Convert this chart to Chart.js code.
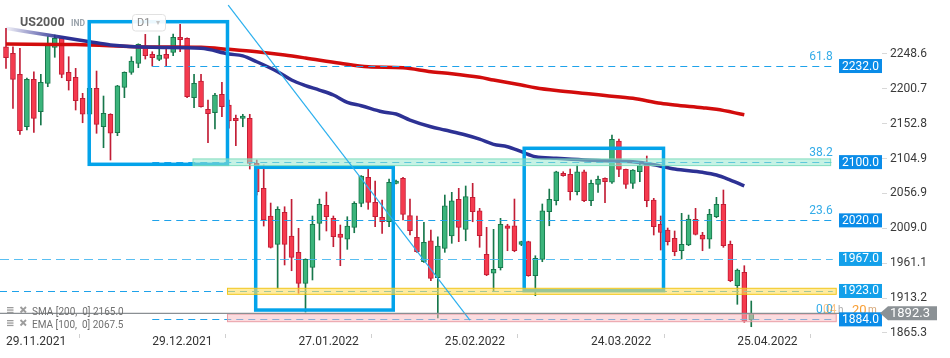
<!DOCTYPE html>
<html><head><meta charset="utf-8">
<script src="https://cdn.jsdelivr.net/npm/chart.js@4.4.1/dist/chart.umd.min.js"></script>
<style>html,body{margin:0;padding:0;background:#fff;overflow:hidden}</style>
</head><body>
<canvas id="c" width="950" height="358"></canvas>
<script>
// ---------- DATA ----------
const candleOpen  = [2258.5,2249.4,2220.6,2148.6,2213.7,2169.2,2208.2,2257.7,2270.1,2223.3,2216.5,2187.6,2165.7,2201.4,2148.6,2165.7,2140.4,2202.7,2223.3,2235.7,2259.9,2248.1,2241.2,2248.1,2250.8,2271.4,2270.1,2188.5,2211.4,2172.5,2167.9,2193.1,2178.4,2160.2,2160.2,2160.2,2098.3,2064.0,2026.0,1987.1,2031.0,1998.5,1976.1,1933.5,1955.5,2015.9,2040.7,2022.8,2001.2,1994.0,2010.4,2043.4,2079.1,2044.8,2024.2,2018.1,2070.9,2077.8,2026.4,1996.7,1963.2,1992.0,1941.2,1981.6,1998.5,2048.9,2007.7,2051.6,2033.2,1973.4,1947.3,1955.0,2012.6,2012.6,1987.1,1990.7,1944.0,1966.5,2031.9,2047.0,2084.6,2083.2,2059.3,2086.8,2047.0,2069.5,2077.8,2072.3,2129.0,2090.1,2070.9,2086.8,2096.0,2047.9,2014.6,2006.7,1995.3,1978.3,1986.1,2021.4,1999.9,1994.0,2025.0,2042.0,1987.1,1930.2,1948.6,1883.1];
const candleHigh  = [2283.8,2258.5,2256.3,2215.5,2224.2,2220.6,2272.3,2274.6,2272.3,2244.8,2228.8,2194.5,2204.5,2225.1,2190.8,2166.5,2205.5,2224.0,2244.8,2262.5,2275.5,2251.6,2273.2,2258.5,2276.0,2289.3,2270.8,2220.6,2220.6,2185.3,2194.5,2209.6,2185.3,2164.7,2165.7,2165.7,2102.9,2096.0,2043.8,2038.7,2038.7,2048.9,2009.1,1967.2,2026.0,2049.3,2058.9,2026.0,2013.6,2025.0,2045.6,2081.5,2090.5,2074.0,2047.9,2076.8,2075.4,2079.1,2049.3,2026.0,2017.3,2006.7,1997.5,2054.8,2058.5,2064.0,2067.2,2070.9,2036.5,2010.4,2007.7,2022.8,2014.6,2049.3,1991.4,1991.4,1971.4,2042.5,2063.0,2087.5,2086.8,2090.5,2096.0,2089.1,2075.4,2080.9,2078.5,2137.2,2131.7,2090.5,2089.8,2100.5,2108.4,2050.3,2026.0,2009.5,2005.4,2029.7,2027.3,2036.5,2003.6,2035.2,2051.6,2061.7,1991.6,1953.2,1957.7,1909.2];
const candleLow   = [2228.8,2173.9,2138.2,2144.1,2140.9,2151.0,2203.6,2244.0,2215.9,2199.0,2171.6,2154.1,2163.3,2139.6,2119.8,2102.9,2136.3,2188.5,2220.6,2229.7,2241.6,2232.0,2239.3,2232.4,2246.2,2251.6,2188.5,2174.7,2175.5,2126.6,2145.5,2162.4,2146.8,2122.5,2148.6,2090.5,2054.8,2012.2,1982.0,1926.7,1958.7,1950.8,1919.8,1894.1,1938.1,1993.0,2005.4,1983.8,1957.7,1980.2,2003.0,2038.7,2035.2,2011.3,2002.2,2011.3,2070.0,2020.5,1999.9,1976.0,1962.3,1937.1,1885.9,1976.1,1988.5,1990.7,1992.0,2018.1,1983.0,1944.0,1922.0,1951.8,1978.3,1976.9,1985.2,1943.2,1916.5,1963.2,2012.6,2041.1,2080.6,2047.9,2054.8,2045.6,2040.1,2058.5,2044.2,2070.9,2079.9,2064.0,2064.0,2073.1,2038.7,1999.9,1979.3,1986.1,1971.4,1966.9,1985.2,1999.9,1978.3,1981.6,2023.6,1983.0,1935.7,1904.7,1880.0,1873.9];
const candleClose = [2243.4,2213.7,2143.1,2213.7,2160.2,2209.6,2263.2,2270.1,2220.6,2211.8,2184.3,2165.7,2201.4,2151.9,2167.0,2139.6,2204.9,2223.3,2238.9,2261.8,2246.2,2243.4,2247.1,2242.6,2271.4,2268.1,2189.8,2208.2,2176.1,2166.5,2192.2,2176.1,2156.5,2156.9,2163.3,2098.3,2059.3,2020.5,1983.0,2035.2,1987.1,1969.2,1933.5,1966.5,2014.6,2042.0,2025.0,1997.5,1996.7,2012.2,2043.4,2080.9,2044.8,2025.0,2018.1,2072.3,2074.0,2028.3,2005.8,1976.9,1989.8,1940.4,1984.8,2040.1,2047.0,2010.4,2052.5,2031.9,1998.9,1944.9,1952.8,2014.6,2009.1,1978.3,1990.7,1944.0,1967.9,2033.2,2048.9,2086.8,2081.3,2059.3,2086.8,2047.0,2070.9,2076.4,2073.1,2131.3,2090.1,2069.5,2089.1,2095.1,2047.0,2011.3,2003.6,1990.7,1976.9,1987.1,2021.8,2000.8,1994.0,2028.3,2042.0,1985.2,1937.1,1951.8,1881.7,1892.3];

const smaIdx = [0,10,21,28,32,36,40,43,48,52,57,61,64,68,70,74,76,79,84,86,90,94,96,100,102,106];
const smaVal = [2262.2,2261.5,2258.1,2257.7,2254.9,2251.6,2247.1,2243.0,2235.7,2231.0,2229.7,2224.2,2221.5,2216.5,2212.8,2205.9,2202.2,2198.3,2193.5,2191.5,2187.6,2180.8,2178.4,2174.7,2172.5,2165.0];

const emaIdx = [0,6,12,15,21,28,32,34,36,39,41,43,45,47,49,51,54,56,58,61,63,66,68,70,72,74,76,79,83,86,90,93,96,100,102,104,106];
const emaVal = [2283.8,2274.6,2265.4,2260.9,2257.7,2256.3,2248.5,2246.0,2237.9,2224.2,2212.8,2205.2,2199.0,2192.2,2182.1,2177.5,2169.2,2166.1,2157.8,2148.6,2144.1,2137.2,2131.5,2124.4,2121.2,2114.3,2107.4,2105.2,2102.9,2101.9,2100.5,2096.5,2090.5,2086.0,2082.3,2075.4,2067.5];

const xTickIdx    = [0,21,42,63,84,105];
const xTickLabels = ['29.11.2021','29.12.2021','27.01.2022','25.02.2022','24.03.2022','25.04.2022'];
const yTicks      = [1865.3,1913.2,1961.1,2009.0,2056.9,2104.9,2152.8,2200.7,2248.6];

// horizontal levels
const levelValues = [2232.0, 2100.0, 2020.0, 1967.0, 1923.0, 1884.0];
const levelStart  = [21, 21, 21, null, null, 21];
const levelFib    = ['61.8','38.2','23.6','','','0.0'];
const levelEndIdx = 118.7;
const currentPrice = 1892.3;

// rectangles (index / price)
const boxX0 = [11.95, 35.85, 74.4];
const boxX1 = [31.8, 55.6, 94.4];
const boxTop = [2292.9, 2092.9, 2119.0];
const boxBottom = [2097.0, 1896.8, 1923.4];

// zones
const zoneLo = [2095.2, 1918.4, 1880.8];
const zoneHi = [2104.4, 1926.7, 1891.3];
const zoneX0 = [26.85, 31.8, 31.8];
const zoneX1 = [118.4, 119.2, 119.2];

// trend line
const trendIdx = [31.9, 66.6];
const trendVal = [2315.8, 1883.1];

// ---------- STYLE ----------
const RED_FILL='#f53a4e', RED_LINE='#c21d35', GRN_FILL='#3bb47b', GRN_LINE='#17774b';
const BOX_BLUE='#03a3ea';
const FONT='Roboto';
const up = candleOpen.map((o,i)=>candleClose[i] >= o);
const idx = candleOpen.map((_,i)=>i);

function emaColor(c){
  const ch=c.chart; if(!ch.chartArea) return '#2d3194';
  const xs=ch.scales.x;
  const g=ch.ctx.createLinearGradient(xs.getPixelForValue(0),0,xs.getPixelForValue(8),0);
  g.addColorStop(0,'rgba(45,49,148,0.06)'); g.addColorStop(1,'rgba(45,49,148,1)');
  return g;
}

const overlay = {
  id:'overlay',
  afterDatasetsDraw(chart){
    const {ctx, chartArea:a, scales:{x,y}} = chart;
    const X=v=>x.getPixelForValue(v), Y=v=>y.getPixelForValue(v);
    ctx.save();
    ctx.beginPath(); ctx.rect(a.left,a.top,a.right-a.left,a.bottom-a.top); ctx.clip();
    // dashed levels
    ctx.lineWidth=1.2;
    levelValues.forEach((v,k)=>{
      ctx.setLineDash(k===3?[9,5]:[7,5]);
      ctx.strokeStyle = k===3 ? 'rgba(60,180,240,0.85)' : '#1ea2ea';
      const x0 = levelStart[k]===null ? a.left : X(levelStart[k]);
      const yy = Math.round(Y(v))+0.5;
      ctx.beginPath(); ctx.moveTo(x0,yy); ctx.lineTo(X(levelEndIdx),yy); ctx.stroke();
    });
    ctx.setLineDash([]);
    // boxes
    ctx.strokeStyle=BOX_BLUE; ctx.lineWidth=3.5;
    boxX0.forEach((b,k)=>{
      ctx.strokeRect(X(b),Y(boxTop[k]),X(boxX1[k])-X(b),Y(boxBottom[k])-Y(boxTop[k]));
    });
    // zones
    const zf=['rgba(150,232,205,0.55)','rgba(253,222,95,0.6)','rgba(248,185,192,0.5)'];
    const zs=['rgba(120,218,185,0.9)','rgba(240,196,20,0.95)','rgba(232,150,160,0.9)'];
    zoneLo.forEach((lo,k)=>{
      const x0=X(zoneX0[k]), x1=X(zoneX1[k]), y0=Y(zoneHi[k]), y1=Y(lo);
      ctx.fillStyle=zf[k]; ctx.fillRect(x0,y0,x1-x0,y1-y0);
      ctx.strokeStyle=zs[k]; ctx.lineWidth=1; ctx.strokeRect(x0,y0,x1-x0,y1-y0);
    });
    // trend line
    ctx.strokeStyle='#2cb0ee'; ctx.lineWidth=1.2;
    ctx.beginPath(); ctx.moveTo(X(trendIdx[0]),Y(trendVal[0])); ctx.lineTo(X(trendIdx[1]),Y(trendVal[1])); ctx.stroke();
    // current price line
    ctx.strokeStyle='#8a8f93'; ctx.lineWidth=1.4;
    const yc=Y(currentPrice);
    ctx.beginPath(); ctx.moveTo(a.left,yc); ctx.lineTo(a.right,yc); ctx.stroke();
    ctx.restore();

    ctx.save();
    // fib labels
    ctx.font='12px '+FONT; ctx.textAlign='right'; ctx.textBaseline='middle';
    levelValues.forEach((v,k)=>{
      if(!levelFib[k]) return;
      ctx.fillStyle='#33ace8';
      ctx.fillText(levelFib[k], X(levelEndIdx), Y(v)-9);
    });
    // countdown
    ctx.textAlign='left';
    ctx.fillStyle='rgba(247,150,40,0.55)'; ctx.font='12px '+FONT; ctx.fillText('04', a.right-59, Y(1884)-9);
    ctx.fillStyle='rgba(150,150,150,0.8)'; ctx.font='10px '+FONT; ctx.fillText('h', a.right-44, Y(1884)-9);
    ctx.fillStyle='rgba(247,148,29,0.9)'; ctx.font='13px '+FONT; ctx.fillText('20', a.right-30, Y(1884)-9);
    ctx.fillStyle='rgba(200,140,80,0.8)'; ctx.font='10px '+FONT; ctx.fillText('m', a.right-14, Y(1884)-9);
    // tags
    ctx.font='12px '+FONT; ctx.textAlign='center';
    levelValues.forEach((v,k)=>{
      const yy=Y(v);
      ctx.fillStyle = (k===3||k===4) ? '#13a0ea' : '#0a8ce8';
      ctx.fillRect(a.right-43, yy-7, 43, 14);
      ctx.fillStyle='#ffffff';
      ctx.fillText(v.toFixed(1), a.right-21.5, yy+0.5);
    });
    // current price tag
    ctx.fillStyle='#8b9195';
    ctx.beginPath();
    ctx.moveTo(a.right-2,yc); ctx.lineTo(a.right+6,yc-7); ctx.lineTo(a.right+55,yc-7);
    ctx.lineTo(a.right+55,yc+7); ctx.lineTo(a.right+6,yc+7); ctx.closePath(); ctx.fill();
    ctx.fillStyle='#ffffff'; ctx.font='13px '+FONT; ctx.textAlign='left';
    ctx.fillText(currentPrice.toFixed(1), a.right+8, yc+0.5);
    // header
    ctx.textBaseline='middle';
    ctx.fillStyle='#5b5b5b'; ctx.font='bold 12.5px '+FONT; ctx.fillText('US2000', 20, 23);
    ctx.fillStyle='#9aa3ab'; ctx.font='bold 8.5px '+FONT; ctx.fillText('IND', 71, 24);
    ctx.fillStyle='rgba(255,255,255,0.92)'; ctx.strokeStyle='#e1e1e1'; ctx.lineWidth=1;
    ctx.beginPath(); ctx.roundRect(132.5,14.5,33,16.5,3); ctx.fill(); ctx.stroke();
    ctx.fillStyle='#8a8a8a'; ctx.font='11px '+FONT; ctx.fillText('D1', 137, 23);
    ctx.fillStyle='#c4c4c4'; ctx.font='8px '+FONT; ctx.fillText('\u25BE', 156, 23);
    // indicator legend
    const legend=[['SMA [200,  0] '+smaVal[smaVal.length-1].toFixed(1), 312],['EMA [100,  0] '+emaVal[emaVal.length-1].toFixed(1), 325]];
    legend.forEach(([t,ly])=>{
      ctx.fillStyle='#9c9c9c';
      for(let r=0;r<3;r++) ctx.fillRect(7, ly-5+r*2.4, 6.5, 1.3);
      ctx.strokeStyle='#9c9c9c'; ctx.lineWidth=1.8;
      ctx.beginPath(); ctx.moveTo(20.5,ly-5); ctx.lineTo(26,ly+0.5); ctx.moveTo(26,ly-5); ctx.lineTo(20.5,ly+0.5); ctx.stroke();
      ctx.fillStyle='#707070'; ctx.font='10px '+FONT; ctx.fillText(t, 32, ly+0.5);
    });
    ctx.restore();
  }
};

new Chart(document.getElementById('c'), {
  type:'bar',
  data:{ datasets:[
    {type:'line', label:'EMA 100', data:emaIdx.map((v,k)=>({x:v,y:emaVal[k]})), borderColor:emaColor, borderWidth:3.5, pointRadius:0, cubicInterpolationMode:'monotone', order:0},
    {type:'line', label:'SMA 200', data:smaIdx.map((v,k)=>({x:v,y:smaVal[k]})), borderColor:'#d20c0c', borderWidth:3.5, pointRadius:0, cubicInterpolationMode:'monotone', order:1},
    {label:'body', data:idx.map(i=>({x:i,y:[candleOpen[i],candleClose[i]]})), backgroundColor:up.map(u=>u?GRN_FILL:RED_FILL), borderColor:up.map(u=>u?GRN_LINE:RED_LINE), borderWidth:1, borderSkipped:false, barThickness:5, grouped:false, order:2},
    {label:'wick', data:idx.map(i=>({x:i,y:[candleLow[i],candleHigh[i]]})), backgroundColor:up.map(u=>u?GRN_LINE:RED_LINE), borderWidth:0, barThickness:1, grouped:false, order:3}
  ]},
  options:{
    responsive:false, animation:false, devicePixelRatio:1, events:[],
    layout:{padding:0, autoPadding:false},
    plugins:{legend:{display:false}, tooltip:{enabled:false}},
    scales:{
      x:{type:'linear', min:-0.8615, max:125.77, offset:false,
         grid:{display:true, drawOnChartArea:false, drawTicks:true, tickLength:4, color:'#d0d0d0'},
         border:{display:false},
         ticks:{autoSkip:false, maxRotation:0, align:'start', padding:-3, color:'#333', font:{family:FONT,size:12},
                callback:(v)=>{const k=xTickIdx.indexOf(v); return k>=0?xTickLabels[k]:'';}},
         afterBuildTicks:s=>{s.ticks=xTickIdx.map(v=>({value:v}));},
         afterFit:s=>{s.height=24; s.paddingLeft=0; s.paddingRight=0;}},
      y:{position:'right', min:1863.9, max:2322.7,
         grid:{drawOnChartArea:false, tickLength:5, color:'#d8d8d8'},
         border:{display:false},
         ticks:{color:'#3a3a3a', padding:3, font:{family:FONT,size:12}, callback:v=>Number(v).toFixed(1)},
         afterBuildTicks:s=>{s.ticks=yTicks.map(v=>({value:v}));},
         afterFit:s=>{s.width=68; s.paddingTop=0; s.paddingBottom=0;}}
    }
  },
  plugins:[overlay]
});
</script>
</body></html>
